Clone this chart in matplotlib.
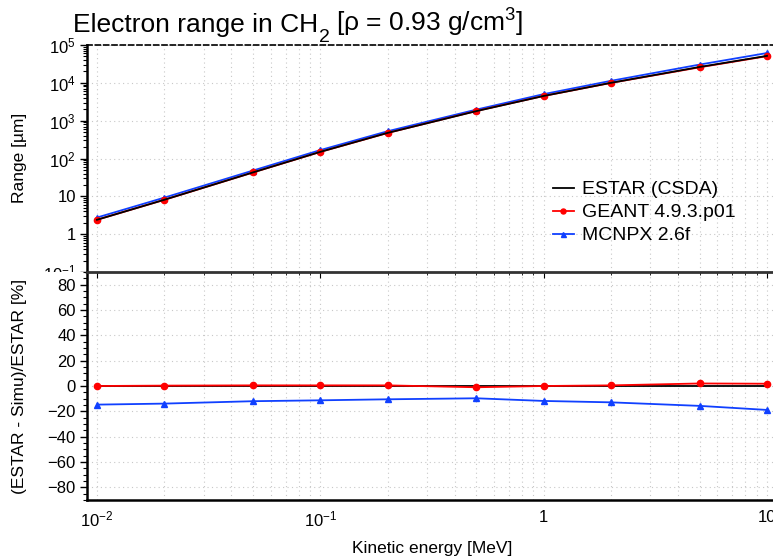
import matplotlib
matplotlib.use("Agg")
import matplotlib.pyplot as plt
import matplotlib.ticker as mticker
from matplotlib.patches import Rectangle
import numpy as np

plt.rcParams['font.family'] = ['Liberation Sans', 'DejaVu Sans']
plt.rcParams['mathtext.fontset'] = 'custom'
plt.rcParams['mathtext.rm'] = 'Liberation Sans'
plt.rcParams['mathtext.it'] = 'Liberation Sans:italic'
plt.rcParams['mathtext.bf'] = 'Liberation Sans:bold'

# Data
energy_MeV = [0.01, 0.02, 0.05, 0.1, 0.2, 0.5, 1, 2, 5, 10]
estar_range_um = [2.4, 8.1, 43.0, 150.0, 475.0, 1790.0, 4500.0, 10000.0, 26300.0, 51600.0]
geant_diff_pct = [0.0, 0.3, 0.5, 0.5, 0.5, -1.0, 0.0, 0.5, 2.0, 1.8]
mcnpx_diff_pct = [-14.7, -13.9, -12.0, -11.3, -10.5, -9.7, -11.8, -12.9, -15.7, -18.9]
zero_line = [0.0] * len(energy_MeV)

E = np.array(energy_MeV)
R = np.array(estar_range_um)
geant_range = R * (1 - np.array(geant_diff_pct) / 100.0)
mcnpx_range = R * (1 - np.array(mcnpx_diff_pct) / 100.0)

W, H = 773, 560
fig = plt.figure(figsize=(W / 100, H / 100), dpi=100)

left = 87 / W
right = 777 / W
ax1 = fig.add_axes([left, 1 - 272 / H, right - left, (272 - 45) / H])
ax2 = fig.add_axes([left, 1 - 500 / H, right - left, (500 - 272) / H])
ax1.set_zorder(0)
ax2.set_zorder(2)

xmin, xmax = 10 ** -2.0447, 10 ** 1.0447
grid_kw = dict(color='#c8c8c8', linestyle=(0, (1, 3)), linewidth=0.8)

# Top panel
ax1.plot(E, mcnpx_range, color='#1040ff', lw=1.3, marker='^', ms=4.5, label='MCNPX 2.6f', zorder=3)
ax1.plot(E, geant_range, color='#ff0000', lw=1.3, marker='o', ms=4.5, label='GEANT 4.9.3.p01', zorder=3)
ax1.plot(E, R, color='black', lw=1.3, label='ESTAR (CSDA)', zorder=4)
ax1.set_xscale('log')
ax1.set_yscale('log')
ax1.set_xlim(xmin, xmax)
ax1.set_ylim(1e-1, 1e5)
ax1.xaxis.set_major_locator(mticker.LogLocator(base=10, numticks=10))
ax1.xaxis.set_minor_locator(mticker.LogLocator(base=10, subs=np.arange(2, 10), numticks=20))
ax1.yaxis.set_major_locator(mticker.LogLocator(base=10, numticks=10))
ax1.yaxis.set_minor_locator(mticker.LogLocator(base=10, subs=np.arange(2, 10), numticks=20))


def logfmt(v, pos):
    e = int(round(np.log10(v)))
    if e == 0:
        return '1'
    if e == 1:
        return '10'
    return r'$10^{%d}$' % e


ax1.yaxis.set_major_formatter(mticker.FuncFormatter(logfmt))
ax1.yaxis.set_minor_formatter(mticker.NullFormatter())
ax1.tick_params(axis='x', which='both', labelbottom=False, bottom=False, top=False)
ax1.tick_params(axis='y', which='major', labelsize=12, length=5, width=1, direction='out', pad=3)
ax1.tick_params(axis='y', which='minor', length=3, width=0.8, direction='out')
ax1.grid(True, which='major', axis='y', **grid_kw)
ax1.grid(True, which='both', axis='x', **grid_kw)
ax1.spines['left'].set_linewidth(1.8)
ax1.spines['top'].set_linestyle((0, (3, 2)))
ax1.spines['top'].set_linewidth(1.2)
ax1.spines['right'].set_visible(False)
ax1.spines['bottom'].set_visible(False)

handles, labels = ax1.get_legend_handles_labels()
order = [2, 1, 0]
ax1.legend([handles[i] for i in order], [labels[i] for i in order],
           loc='upper left', bbox_to_anchor=(543 / W, 1 - 171 / H), bbox_transform=fig.transFigure,
           frameon=False, fontsize=14, borderpad=0, handlelength=1.1, handletextpad=0.4,
           labelspacing=0.28, markerscale=0.8)

# Cover lower part of the clipped 10^-1 label
fig.add_artist(Rectangle((0, 0), left - 0.002, 1 - 272 / H, transform=fig.transFigure,
                         facecolor='white', edgecolor='none', zorder=1))

# Bottom panel
ax2.plot(E, zero_line, color='black', lw=1.3, zorder=3)
ax2.plot(E, geant_diff_pct, color='#ff0000', lw=1.3, marker='o', ms=4.5, zorder=4)
ax2.plot(E, mcnpx_diff_pct, color='#1040ff', lw=1.3, marker='^', ms=4.5, zorder=4)
ax2.set_xscale('log')
ax2.set_xlim(xmin, xmax)
ax2.set_ylim(-90, 90)
ax2.xaxis.set_major_locator(mticker.LogLocator(base=10, numticks=10))
ax2.xaxis.set_minor_locator(mticker.LogLocator(base=10, subs=np.arange(2, 10), numticks=20))
ax2.xaxis.set_major_formatter(mticker.FuncFormatter(logfmt))
ax2.xaxis.set_minor_formatter(mticker.NullFormatter())
ax2.yaxis.set_minor_locator(mticker.MultipleLocator(5))
ax2.set_yticks([-80, -60, -40, -20, 0, 20, 40, 60, 80])
ax2.tick_params(axis='x', which='major', labelsize=12, bottom=False, top=True, direction='in',
                length=4, pad=7)
ax2.tick_params(axis='x', which='minor', bottom=False, top=True, direction='in', length=2.5)
ax2.tick_params(axis='y', which='major', labelsize=12, length=5, width=1, direction='out', pad=3)
ax2.tick_params(axis='y', which='minor', length=3, width=0.8, direction='out')
ax2.grid(True, which='major', axis='y', **grid_kw)
ax2.grid(True, which='both', axis='x', **grid_kw)
ax2.spines['left'].set_linewidth(1.8)
ax2.spines['bottom'].set_linewidth(1.8)
ax2.spines['top'].set_linewidth(2.0)
ax2.spines['top'].set_color('#333333')
ax2.spines['right'].set_visible(False)

# Title in pieces (ROOT-like low subscript)
fig.canvas.draw()
renderer = fig.canvas.get_renderer()
base_y = 1 - 32 / H
t1 = fig.text(73 / W, base_y, 'Electron range in CH', fontsize=19, ha='left', va='baseline')
bb1 = t1.get_window_extent(renderer)
x2 = bb1.x1 / W + 1 / W
t2 = fig.text(x2, base_y - 10 / H, '2', fontsize=14, ha='left', va='baseline')
bb2 = t2.get_window_extent(renderer)
x3 = bb2.x1 / W + 6 / W
fig.text(x3, base_y, r'[ρ = 0.93 g/cm$^{3}$]', fontsize=19, ha='left', va='baseline')

fig.text(20 / W, 1 - 158 / H, 'Range [µm]', rotation=90, fontsize=12.5, ha='center', va='center')
fig.text(20 / W, 1 - 386 / H, '(ESTAR - Simu)/ESTAR [%]', rotation=90, fontsize=12.5,
         ha='center', va='center')
fig.text(432 / W, 1 - 548 / H, 'Kinetic energy [MeV]', fontsize=12.5, ha='center', va='center')

fig.savefig('out.png', dpi=100)
